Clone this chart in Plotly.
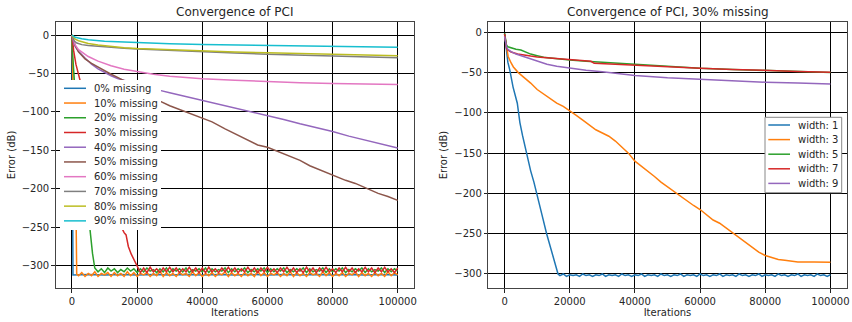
import plotly.graph_objects as go

W, H = 852, 322
FONT = "DejaVu Sans"
TXT = "#262626"

COLORS = ["#1f77b4", "#ff7f0e", "#2ca02c", "#d62728", "#9467bd",
          "#8c564b", "#e377c2", "#7f7f7f", "#bcbd22", "#17becf"]

# ---------------- left panel data ----------------
LEFT_NAMES = ["0% missing", "10% missing", "20% missing", "30% missing", "40% missing",
              "50% missing", "60% missing", "70% missing", "80% missing", "90% missing"]

M0_X = [0, 150, 300, 5000, 10000, 15000, 20000, 25000, 30000, 35000, 40000, 45000, 50000,
        55000, 60000, 65000, 70000, 75000, 80000, 85000, 90000, 95000, 100000]
M0_Y = [0, -200, -312, -311.5, -312, -311.5, -312, -311.5, -312, -311.5, -312, -311.5, -312,
        -311.5, -312, -311.5, -312, -311.5, -312, -311.5, -312, -311.5, -312]

M10_X = [0, 100, 250, 600, 1000, 1300, 1450]
M10_Y = [0, -30, -58, -130, -210, -253, -311]
M10_TAIL_START = 2000
M10_TAIL = [-313, -309, -314, -310, -313, -308, -314, -310, -312, -309,
            -314, -309, -313, -310, -314, -308, -313, -309, -314, -310,
            -312, -309, -314, -310, -313, -307, -314, -309, -313, -310,
            -314, -309, -312, -310, -314, -308, -313, -309, -314, -310,
            -313, -309, -314, -310, -312, -308, -314, -309, -313, -310,
            -314, -309, -313, -310, -314, -307, -313, -309, -314, -310,
            -312, -309, -314, -310, -313, -308, -314, -309, -313, -310,
            -314, -309, -312, -310, -314, -308, -313, -309, -314, -310,
            -313, -309, -314, -310, -312, -308, -314, -309, -313, -310,
            -314, -309, -313, -310, -314, -308, -313, -309, -312]

M20_X = [0, 200, 700, 2000, 3500, 5000, 5500, 6300, 7000, 7500]
M20_Y = [0, -25, -58, -110, -170, -230, -253, -284, -303, -306]
M20_TAIL_START = 8000
M20_TAIL = [-308, -304, -309, -303, -307, -304, -309, -305, -308, -303,
            -307, -304, -309, -304, -308, -303, -307, -305, -309, -304,
            -308, -303, -309, -304, -307, -304, -308, -303, -309, -305,
            -307, -304, -308, -303, -309, -304, -308, -305, -307, -303,
            -309, -304, -308, -304, -307, -303, -309, -305, -308, -304,
            -307, -303, -309, -304, -308, -304, -307, -303, -309, -305,
            -308, -304, -307, -303, -309, -304, -308, -305, -307, -303,
            -309, -304, -308, -304, -307, -303, -309, -305, -308, -304,
            -307, -303, -309, -304, -308, -305, -307, -303, -309, -304,
            -308, -304, -307]

M30_X = [0, 500, 1200, 2400, 5000, 8000, 11000, 14000, 15500, 16000, 16600, 17300, 18200,
         19300, 20300]
M30_Y = [0, -20, -38, -58, -100, -150, -200, -240, -254, -257, -260, -275, -285, -295, -303.5]
M30_TAIL_START = 21000
M30_TAIL = [-309, -303, -309, -302, -308, -304, -309, -303, -308, -302,
            -308, -303, -309, -304, -308, -302, -308, -303, -309, -303,
            -309, -302, -308, -304, -309, -303, -308, -302, -308, -303,
            -309, -304, -308, -302, -308, -303, -309, -303, -308, -302,
            -308, -304, -309, -303, -308, -302, -308, -303, -309, -304,
            -309, -302, -308, -303, -309, -303, -308, -302, -308, -304,
            -309, -303, -308, -302, -308, -303, -309, -304, -308, -302,
            -308, -303, -309, -303, -308, -302, -308, -304, -309, -303]

M40_X = [0, 500, 1000, 2000, 4000, 6000, 8000, 10000, 12000, 14000, 16000, 20000, 24000, 27000,
         30000, 35000, 40000, 45000, 50000, 55000, 60000, 65000, 70000, 75000, 80000, 85000,
         90000, 95000, 100000]
M40_Y = [0, -10, -15, -21, -30, -38, -44, -49, -53, -56.5, -59, -64, -68.5, -72,
         -75, -80, -85.5, -90, -95, -99.5, -104.5, -110, -115.5, -120.5, -125.5, -131.5,
         -136.5, -141, -147]

M50_X = [0, 500, 1000, 2000, 4000, 6000, 8000, 10000, 12000, 14000,
         16000, 18000, 20000, 24000, 27000, 30000, 33000, 36000, 40000, 43000,
         47000, 50000, 54000, 57000, 60000, 65000, 70000, 73000, 77000, 80000,
         84000, 87000, 90000, 94000, 97000, 100000]
M50_Y = [0, -9, -14, -22, -31, -37, -42, -47, -51, -55,
         -59, -63, -68, -78, -86, -92, -97, -102, -109, -113,
         -122, -128, -137, -143, -146, -155, -163, -170, -177, -182,
         -189, -193, -199, -206, -210, -215]

M60_X = [0, 500, 1000, 2000, 3500, 5000, 8000, 12000, 16000, 20000, 25000, 30000, 35000,
         40000, 50000, 60000, 70000, 80000, 90000, 100000]
M60_Y = [0, -8, -13, -19, -24, -28, -34, -40, -44.5, -47.7, -51, -53.5, -55.5,
         -57, -59, -60.7, -62, -63, -63.8, -64.5]

M70_X = [0, 300, 700, 1500, 3000, 5000, 8000, 12000, 16000, 20000, 30000, 40000, 50000,
         60000, 70000, 80000, 90000, 100000]
M70_Y = [0, -5, -8, -10.5, -12.5, -13.8, -15, -16.3, -17.3, -18.3, -20.3, -22, -23.5,
         -25, -26.2, -27.3, -28.4, -29.5]

M80_X = [0, 500, 1000, 2000, 3500, 5000, 8000, 12000, 16000, 20000, 30000, 40000, 50000,
         60000, 70000, 80000, 90000, 100000]
M80_Y = [0, -3.5, -5.5, -7.5, -9.5, -11, -13, -15, -16.5, -17.5, -19.3, -20.7, -22,
         -23.2, -24.3, -25.2, -26.1, -27]

M90_X = [0, 1000, 3000, 5000, 10000, 20000, 30000, 40000, 50000, 60000, 70000, 80000,
         90000, 100000]
M90_Y = [0, -3, -5, -6.3, -8, -10, -11.3, -12.3, -13, -13.8, -14.5, -15, -15.6, -16]

# ---------------- right panel data ----------------
RIGHT_NAMES = ["width: 1", "width: 3", "width: 5", "width: 7", "width: 9"]

W1_X = [0, 300, 600, 1000, 1600, 2600, 3900, 4700, 5500, 6300, 7100, 8000, 9000, 9800,
        10300, 11300, 11800, 12900, 13600, 14400, 15400, 15900, 16400]
W1_Y = [-2, -14, -26, -37, -47, -68, -88, -112, -128, -142, -158, -172, -186, -200,
        -208, -226, -232, -250, -260, -270, -283, -291, -300]
W1_TAIL_START = 17000
W1_TAIL = [-302, -300, -303, -301, -302, -301, -303, -300, -302, -301,
           -303, -301, -302, -300, -303, -301, -302, -301, -303, -300,
           -302, -301, -303, -301, -302, -300, -303, -301, -302, -301,
           -303, -300, -302, -301, -303, -301, -302, -300, -303, -301,
           -302, -301, -303, -300, -302, -301, -303, -301, -302, -300,
           -303, -301, -302, -301, -303, -300, -302, -301, -303, -301,
           -302, -300, -303, -301, -302, -301, -303, -300, -302, -301,
           -303, -301, -302, -300, -303, -301, -302, -301, -303, -300,
           -302, -301, -303, -301]

W3_X = [0, 300, 600, 1100, 2000, 2700, 4200, 6000, 8000, 10000,
        12000, 14000, 16000, 18000, 20000, 22000, 24000, 26000, 28000, 30000,
        32000, 34000, 36000, 38000, 40000, 42000, 44000, 46000, 48000, 50000,
        52000, 54000, 56000, 58000, 60000, 62000, 64000, 66000, 68000, 70000,
        72000, 74000, 76000, 78000, 80000,
        82000, 84000, 86000, 88000, 90000, 95000, 100000]
W3_Y = [-3, -12, -22, -30, -38, -43, -50, -56, -63, -71,
        -77, -83, -88, -92, -97, -103, -109, -115, -121, -125,
        -129, -135, -142, -150, -160, -166, -172, -179, -186, -192,
        -198, -203, -209, -215, -220, -226, -233, -237, -243, -248,
        -255, -261, -267, -273, -277,
        -280, -282, -283, -284, -285, -285, -285.5]

W5_X = [0, 300, 600, 1000, 2000, 3500, 5000, 6500, 8000, 10000, 12000, 14000, 16000, 18000,
        20000, 25000, 30000, 35000, 40000, 50000, 60000, 70000, 80000, 90000, 100000]
W5_Y = [-1, -10, -16, -18, -19.5, -21, -22, -25, -27, -29, -31, -32, -33, -34,
        -34.5, -36, -37, -38, -39.5, -42, -44.5, -46, -47.5, -49, -50]

W7_X = [0, 300, 600, 1000, 2000, 4000, 6000, 8000, 10000, 13000, 16000, 20000, 24000, 26000,
        26500, 27500, 30000, 35000, 40000, 50000, 60000, 70000, 80000, 90000, 100000]
W7_Y = [-2, -12, -20, -22, -24.5, -27, -28.5, -29.5, -30.5, -31.5, -32.5, -33.5, -34.5, -35,
        -36, -38.5, -39, -40, -41, -43, -44.5, -46, -47.5, -48.5, -49.5]

W9_X = [0, 300, 600, 1000, 2000, 3500, 5000, 7500, 10000, 13000, 16000, 20000, 25000, 30000,
        35000, 40000, 50000, 60000, 70000, 80000, 90000, 100000]
W9_Y = [-5, -12, -18, -21, -24, -27, -29, -32, -35.5, -39.5, -42, -44.5, -47, -49,
        -51.5, -53.5, -56.5, -58.5, -60.5, -62, -63, -64]

X_TICKS = [0, 20000, 40000, 60000, 80000, 100000]
X_TICK_LABELS = ["0", "20000", "40000", "60000", "80000", "100000"]
Y_TICKS = [0, -50, -100, -150, -200, -250, -300]

TITLES = ["Convergence of PCI", "Convergence of PCI, 30% missing"]
X_LABEL = "Iterations"
Y_LABEL = "Error (dB)"
STEP = 1000


def with_tail(hx, hy, start, tail):
    xs = list(hx) + [start + STEP * i for i in range(len(tail))]
    ys = list(hy) + list(tail)
    return xs, ys


left_series = [
    (M0_X, M0_Y),
    with_tail(M10_X, M10_Y, M10_TAIL_START, M10_TAIL),
    with_tail(M20_X, M20_Y, M20_TAIL_START, M20_TAIL),
    with_tail(M30_X, M30_Y, M30_TAIL_START, M30_TAIL),
    (M40_X, M40_Y), (M50_X, M50_Y), (M60_X, M60_Y),
    (M70_X, M70_Y), (M80_X, M80_Y), (M90_X, M90_Y),
]
right_series = [
    with_tail(W1_X, W1_Y, W1_TAIL_START, W1_TAIL),
    (W3_X, W3_Y), (W5_X, W5_Y), (W7_X, W7_Y), (W9_X, W9_Y),
]

fig = go.Figure()
for i, (xs, ys) in enumerate(left_series):
    fig.add_trace(go.Scatter(x=xs, y=ys, mode="lines", name=LEFT_NAMES[i],
                             line=dict(color=COLORS[i], width=1.5),
                             xaxis="x", yaxis="y", showlegend=False))
for i, (xs, ys) in enumerate(right_series):
    fig.add_trace(go.Scatter(x=xs, y=ys, mode="lines", name=RIGHT_NAMES[i],
                             line=dict(color=COLORS[i], width=1.5),
                             xaxis="x2", yaxis="y2", showlegend=False))


def px_x(p):
    return p / W


def px_y(p):
    return 1 - p / H


# axes frames in pixels
L_X0, L_X1 = 55.7, 414.0
R_X0, R_X1 = 488.3, 846.7
Y0, Y1 = 21.7, 288.3

axis_common = dict(showline=True, mirror=True, linecolor="#444444", linewidth=1,
                   showgrid=True, gridcolor="#000000", gridwidth=1, zeroline=False,
                   ticks="outside", ticklen=3.5, tickwidth=0.8, tickcolor="#222222",
                   tickfont=dict(family=FONT, size=10, color=TXT), automargin=False)

fig.update_layout(
    width=W, height=H, margin=dict(l=0, r=0, t=0, b=0),
    paper_bgcolor="white", plot_bgcolor="white",
    font=dict(family=FONT, size=10, color=TXT),
    hovermode=False,
    xaxis=dict(domain=[px_x(L_X0), px_x(L_X1)], range=[-5000, 105000],
               tickvals=X_TICKS, ticktext=X_TICK_LABELS, anchor="y",
               title=dict(text=X_LABEL, standoff=3, font=dict(family=FONT, size=10, color=TXT)),
               **axis_common),
    yaxis=dict(domain=[px_y(Y1), px_y(Y0)], range=[-329.4, 17.3],
               tickvals=Y_TICKS, anchor="x",
               title=dict(text=Y_LABEL, standoff=4, font=dict(family=FONT, size=10, color=TXT)),
               **axis_common),
    xaxis2=dict(domain=[px_x(R_X0), px_x(R_X1)], range=[-5000, 105000],
                tickvals=X_TICKS, ticktext=X_TICK_LABELS, anchor="y2",
                title=dict(text=X_LABEL, standoff=3, font=dict(family=FONT, size=10, color=TXT)),
                **axis_common),
    yaxis2=dict(domain=[px_y(Y1), px_y(Y0)], range=[-317.8, 13.2],
                tickvals=Y_TICKS, anchor="x2",
                title=dict(text=Y_LABEL, standoff=4, font=dict(family=FONT, size=10, color=TXT)),
                **axis_common),
)

annotations = []
shapes = []
# titles
for t, (a, b) in zip(TITLES, [(L_X0, L_X1), (R_X0, R_X1)]):
    annotations.append(dict(text=t, x=px_x((a + b) / 2), y=px_y(11.7), xref="paper", yref="paper",
                            xanchor="center", yanchor="middle", showarrow=False,
                            font=dict(family=FONT, size=12, color=TXT)))


def add_legend(names, box, line_x0, line_x1, text_x, row0, row_step, border):
    bx0, by0, bx1, by1 = box
    shapes.append(dict(type="rect", xref="paper", yref="paper", layer="above",
                       x0=px_x(bx0), x1=px_x(bx1), y0=px_y(by1), y1=px_y(by0),
                       fillcolor="white",
                       line=dict(color=border if border else "white", width=1 if border else 0)))
    for i, nm in enumerate(names):
        yy = row0 + i * row_step
        shapes.append(dict(type="line", xref="paper", yref="paper", layer="above",
                           x0=px_x(line_x0), x1=px_x(line_x1), y0=px_y(yy), y1=px_y(yy),
                           line=dict(color=COLORS[i], width=1.5)))
        annotations.append(dict(text=nm, x=px_x(text_x), y=px_y(yy), xref="paper", yref="paper",
                                xanchor="left", yanchor="middle", showarrow=False,
                                font=dict(family=FONT, size=10, color=TXT)))


add_legend(LEFT_NAMES, (60, 80, 161, 230), 64, 86, 92, 88.3, 14.73, None)
add_legend(RIGHT_NAMES, (765, 117.3, 841.7, 192.7), 768.3, 790, 796, 125, 14.6, "#888888")

fig.update_layout(annotations=annotations, shapes=shapes)
fig.write_html("out.html", config={"displayModeBar": False},
               post_script="document.body.style.margin='0';")
